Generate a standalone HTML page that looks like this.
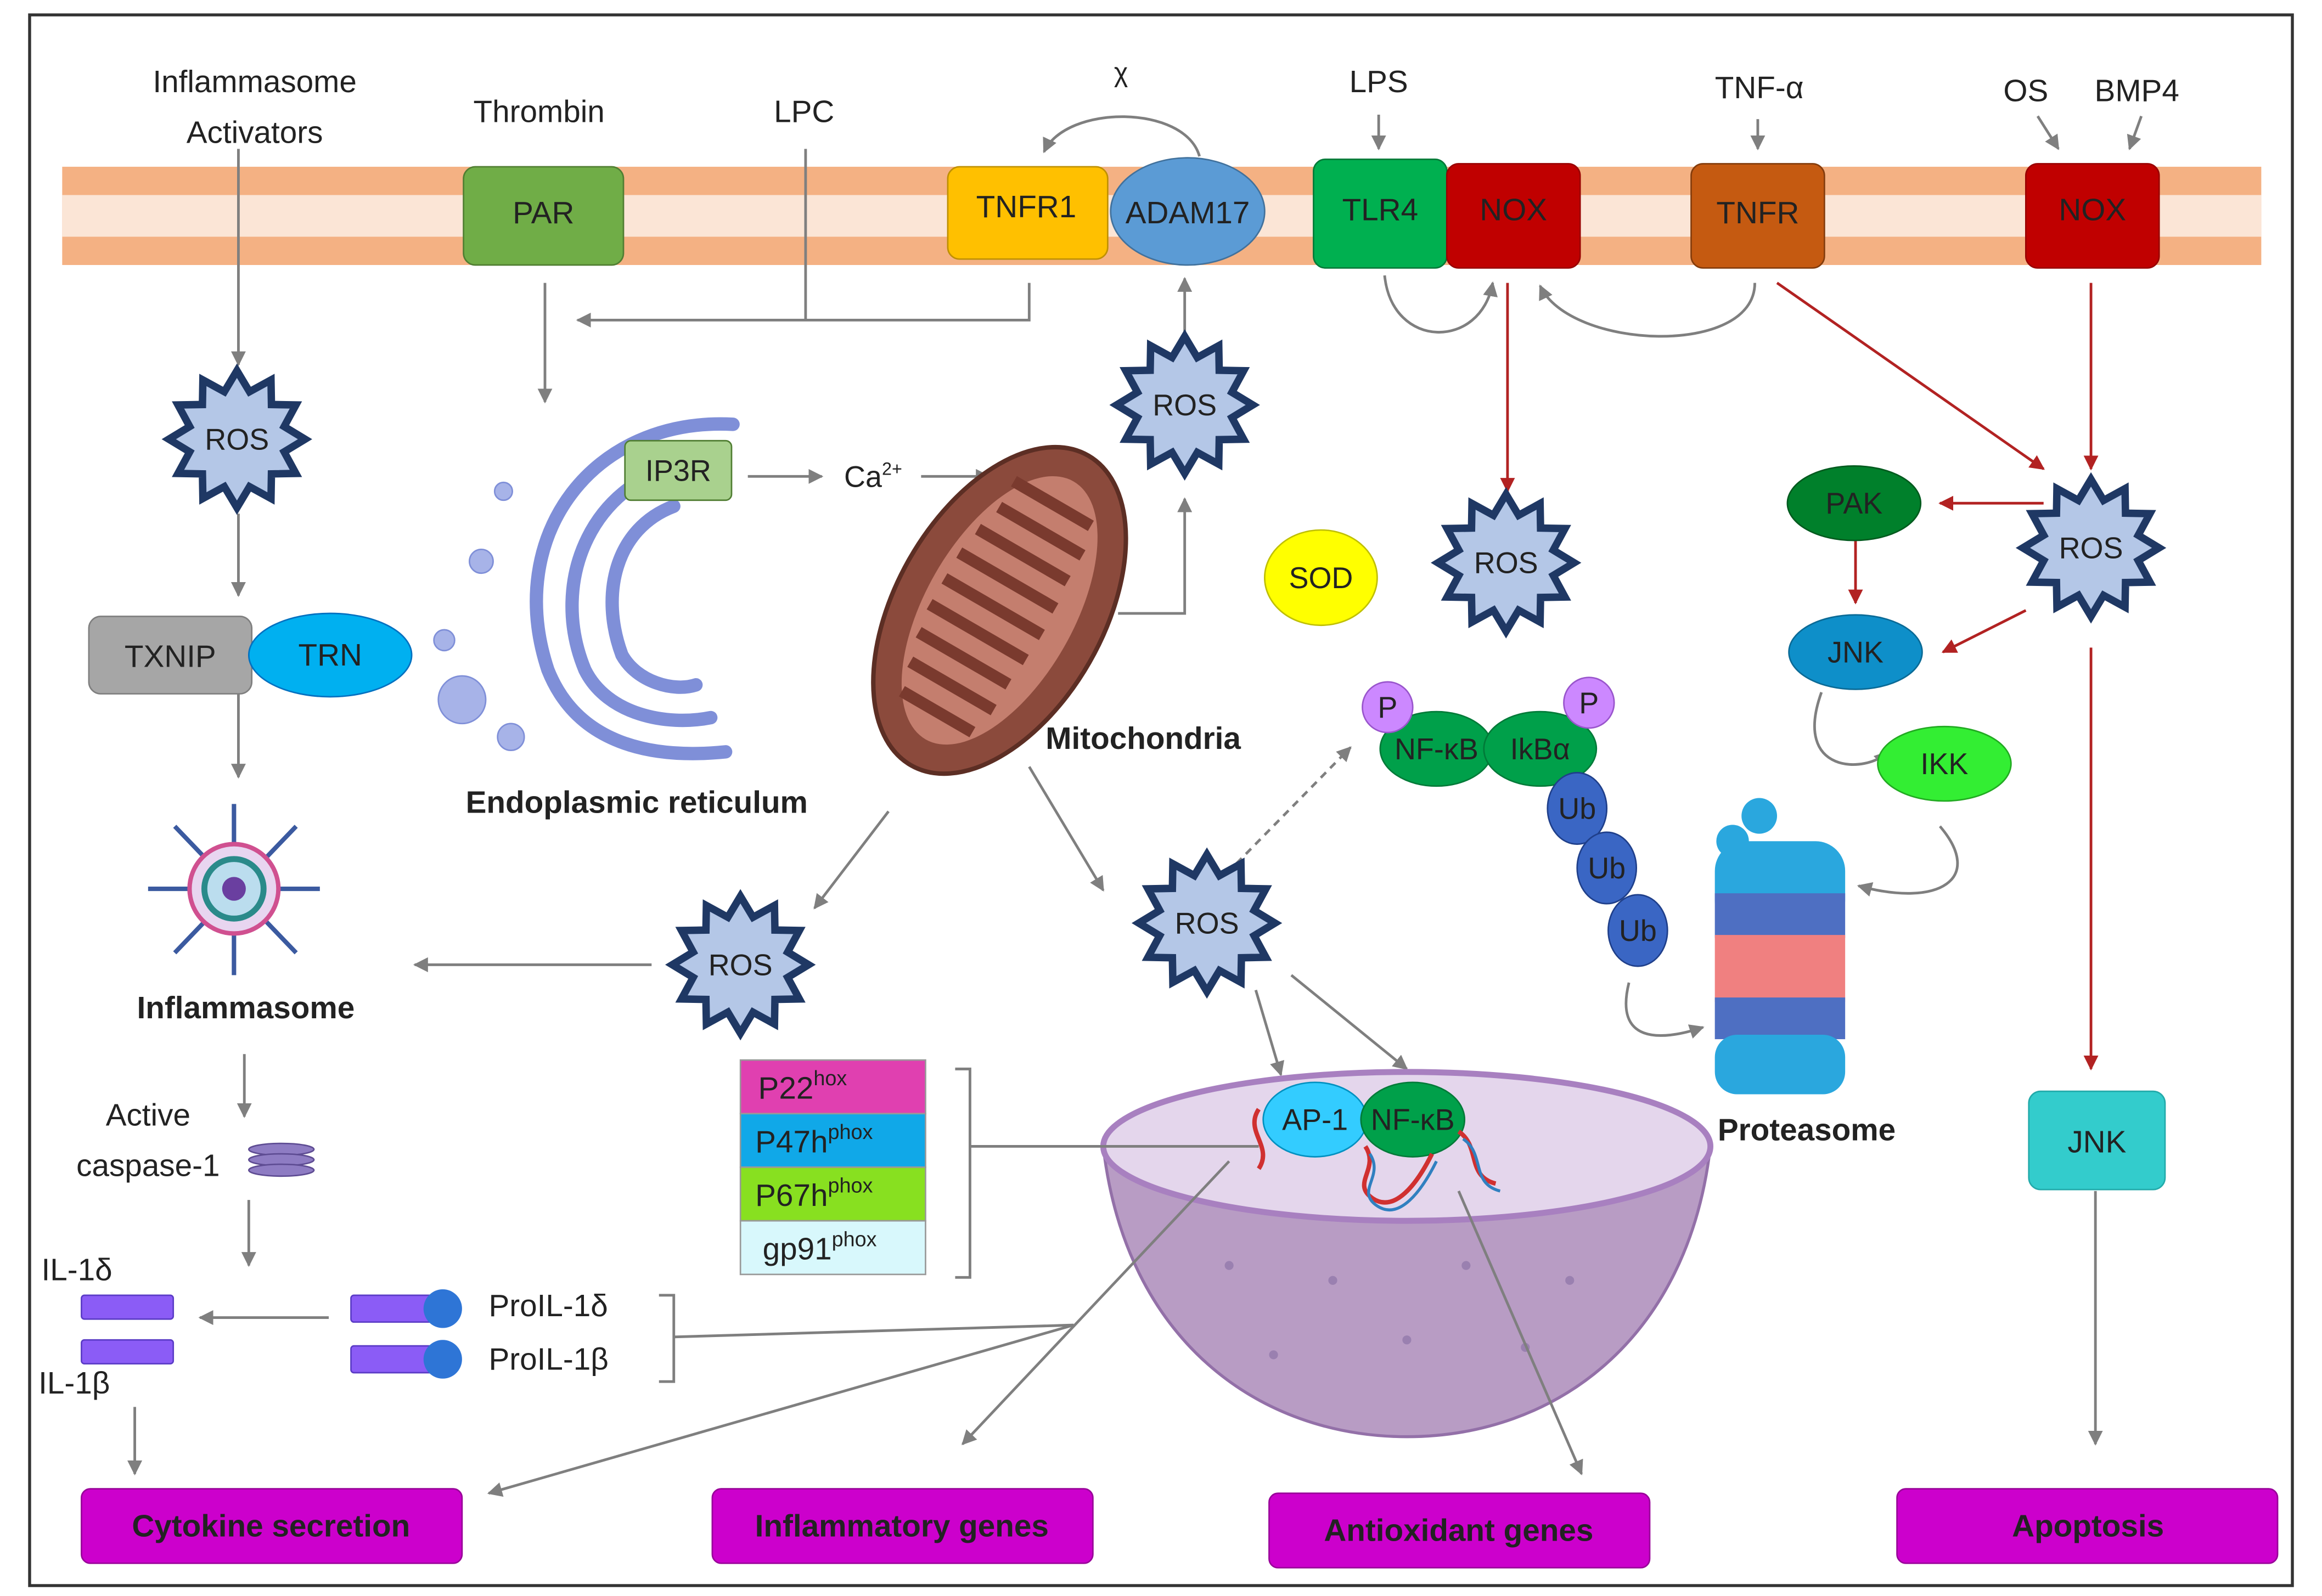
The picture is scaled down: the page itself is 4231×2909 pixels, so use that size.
<!DOCTYPE html>
<html><head><meta charset="utf-8">
<style>html,body{margin:0;padding:0;background:#fff}svg{display:block}
text{font-family:"Liberation Sans",sans-serif;fill:#222}</style></head>
<body>
<svg width="4231" height="2909" viewBox="0 0 1568 1072" preserveAspectRatio="none" xmlns="http://www.w3.org/2000/svg">
<defs>
<marker id="ag" markerWidth="10" markerHeight="10" refX="9" refY="5" orient="auto" markerUnits="userSpaceOnUse"><path d="M0,0 L10,5 L0,10 z" fill="#7f7f7f"/></marker>
<marker id="ar" markerWidth="10" markerHeight="10" refX="9" refY="5" orient="auto" markerUnits="userSpaceOnUse"><path d="M0,0 L10,5 L0,10 z" fill="#b22222"/></marker>
<symbol id="star" viewBox="-50 -50 100 100" overflow="visible">
<polygon points="46,0 31.9,8.5 39.8,23 23.3,23.3 23,39.8 8.5,31.9 0,46 -8.5,31.9 -23,39.8 -23.3,23.3 -39.8,23 -31.9,8.5 -46,0 -31.9,-8.5 -39.8,-23 -23.3,-23.3 -23,-39.8 -8.5,-31.9 0,-46 8.5,-31.9 23,-39.8 23.3,-23.3 39.8,-23 31.9,-8.5" fill="#b4c7e7" stroke="#1f3864" stroke-width="5" stroke-linejoin="miter"/>
</symbol>
</defs>
<rect x="20" y="10" width="1528" height="1055" fill="#fff" stroke="#333" stroke-width="2"/>
<rect x="42" y="112" width="1485" height="66" fill="#f4b183"/>
<rect x="42" y="131" width="1485" height="28" fill="#fbe5d6"/>

<g stroke="#7f7f7f" stroke-width="1.8" fill="none" marker-end="url(#ag)">
<line x1="161" y1="100" x2="161" y2="245"/>
<line x1="161" y1="345" x2="161" y2="400"/>
<line x1="161" y1="466" x2="161" y2="522"/>
<line x1="368" y1="190" x2="368" y2="270"/>
<polyline points="695,190 695,215 390,215"/>
<polyline points="544,100 544,215" marker-end="none"/>
<line x1="505" y1="320" x2="555" y2="320"/>
<line x1="622" y1="320" x2="668" y2="320"/>
<polyline points="755,412 800,412 800,335"/>
<line x1="800" y1="238" x2="800" y2="187"/>
<path d="M810,105 C800,70 720,70 705,102"/>
<line x1="931" y1="77" x2="931" y2="100"/>
<line x1="1187" y1="80" x2="1187" y2="100"/>
<line x1="1376" y1="78" x2="1390" y2="100"/>
<line x1="1446" y1="78" x2="1438" y2="100"/>
<path d="M935,185 C940,235 1000,235 1008,190"/>
<path d="M1185,190 C1185,240 1060,235 1040,192"/>
<line x1="600" y1="545" x2="550" y2="610"/>
<line x1="695" y1="515" x2="745" y2="598"/>
<line x1="440" y1="648" x2="280" y2="648"/>
<line x1="165" y1="708" x2="165" y2="750"/>
<line x1="168" y1="806" x2="168" y2="850"/>
<line x1="222" y1="885" x2="135" y2="885"/>
<line x1="91" y1="945" x2="91" y2="990"/>
<line x1="848" y1="665" x2="865" y2="722"/>
<line x1="872" y1="655" x2="950" y2="718"/>
<path d="M1100,660 C1090,700 1120,700 1150,690"/>
<path d="M1230,465 C1210,520 1260,520 1275,505"/>
<path d="M1310,555 C1340,590 1310,610 1255,595"/>
<polyline points="445,870 455,870 455,928 445,928" marker-end="none"/>
<line x1="455" y1="898" x2="725" y2="890" marker-end="none"/>
<line x1="725" y1="890" x2="330" y2="1003"/>
<polyline points="645,718 655,718 655,858 645,858" marker-end="none"/>
<line x1="1415" y1="800" x2="1415" y2="970"/>
</g>
<line x1="835" y1="580" x2="912" y2="502" stroke="#7f7f7f" stroke-width="1.8" stroke-dasharray="5,4" marker-end="url(#ag)"/>
<g stroke="#b22222" stroke-width="1.8" fill="none" marker-end="url(#ar)">
<line x1="1018" y1="190" x2="1018" y2="330"/>
<line x1="1200" y1="190" x2="1380" y2="315"/>
<line x1="1412" y1="190" x2="1412" y2="315"/>
<line x1="1380" y1="338" x2="1310" y2="338"/>
<line x1="1253" y1="360" x2="1253" y2="405"/>
<line x1="1368" y1="410" x2="1312" y2="438"/>
<line x1="1412" y1="435" x2="1412" y2="718"/>
</g>

<rect x="313" y="112" width="108" height="66" rx="8" fill="#70ad47" stroke="#507e32"/>
<rect x="640" y="112" width="108" height="62" rx="8" fill="#ffc000" stroke="#bf9000"/>
<ellipse cx="802" cy="142" rx="52" ry="36" fill="#5b9bd5" stroke="#41719c"/>
<rect x="887" y="107" width="90" height="73" rx="8" fill="#00b050" stroke="#007a38"/>
<rect x="977" y="110" width="90" height="70" rx="8" fill="#c00000" stroke="#900"/>
<rect x="1142" y="110" width="90" height="70" rx="8" fill="#c55a11" stroke="#843c0c"/>
<rect x="1368" y="110" width="90" height="70" rx="8" fill="#c00000" stroke="#900"/>
<g font-size="21" text-anchor="middle">
<text x="367" y="150">PAR</text><text x="693" y="146">TNFR1</text><text x="802" y="150">ADAM17</text>
<text x="932" y="148">TLR4</text><text x="1022" y="148">NOX</text><text x="1187" y="150">TNFR</text><text x="1413" y="148">NOX</text>
<text x="172" y="62">Inflammasome</text><text x="172" y="96">Activators</text>
<text x="364" y="82">Thrombin</text><text x="543" y="82">LPC</text><text x="757" y="55" font-size="18">χ</text>
<text x="931" y="62">LPS</text><text x="1188" y="66">TNF-α</text><text x="1368" y="68">OS</text><text x="1443" y="68">BMP4</text>
</g>

<use href="#star" x="110" y="245" width="100" height="100"/>
<use href="#star" x="750" y="222" width="100" height="100"/>
<use href="#star" x="967" y="328" width="100" height="100"/>
<use href="#star" x="1362" y="318" width="100" height="100"/>
<use href="#star" x="450" y="598" width="100" height="100"/>
<use href="#star" x="765" y="570" width="100" height="100"/>
<g font-size="20" text-anchor="middle">
<text x="160" y="302">ROS</text><text x="800" y="279">ROS</text><text x="1017" y="385">ROS</text>
<text x="1412" y="375">ROS</text><text x="500" y="655">ROS</text><text x="815" y="627">ROS</text>
</g>

<rect x="60" y="414" width="110" height="52" rx="8" fill="#a6a6a6" stroke="#7f7f7f"/>
<ellipse cx="223" cy="440" rx="55" ry="28" fill="#00b0f0" stroke="#0070c0"/>
<text x="115" y="448" font-size="21" text-anchor="middle">TXNIP</text>
<text x="223" y="447" font-size="21" text-anchor="middle">TRN</text>

<g stroke="#3b5aa0" stroke-width="3">
<line x1="158" y1="540" x2="158" y2="655"/><line x1="100" y1="597" x2="216" y2="597"/>
<line x1="118" y1="555" x2="200" y2="640"/><line x1="200" y1="555" x2="118" y2="640"/>
</g>
<circle cx="158" cy="597" r="30" fill="#e8d5f0" stroke="#d05090" stroke-width="3"/>
<circle cx="158" cy="597" r="20" fill="#bde" stroke="#2a8a8a" stroke-width="4"/>
<circle cx="158" cy="597" r="8" fill="#6a3fa0"/>
<text x="166" y="684" font-size="21" font-weight="bold" text-anchor="middle">Inflammasome</text>
<text x="100" y="756" font-size="21" text-anchor="middle">Active</text>
<text x="100" y="790" font-size="21" text-anchor="middle">caspase-1</text>
<g fill="#8e7cc3" stroke="#5e4c93"><ellipse cx="190" cy="772" rx="22" ry="4"/><ellipse cx="190" cy="779" rx="22" ry="4"/><ellipse cx="190" cy="786" rx="22" ry="4"/></g>

<text x="28" y="860" font-size="21">IL-1δ</text>
<text x="26" y="936" font-size="21">IL-1β</text>
<rect x="55" y="870" width="62" height="16" rx="2" fill="#8b5cf6" stroke="#5b3cc6"/>
<rect x="55" y="900" width="62" height="16" rx="2" fill="#8b5cf6" stroke="#5b3cc6"/>
<rect x="237" y="870" width="60" height="18" rx="2" fill="#8b5cf6" stroke="#5b3cc6"/><circle cx="299" cy="879" r="13" fill="#2e75d6"/>
<rect x="237" y="904" width="60" height="18" rx="2" fill="#8b5cf6" stroke="#5b3cc6"/><circle cx="299" cy="913" r="13" fill="#2e75d6"/>
<text x="330" y="884" font-size="21">ProIL-1δ</text><text x="330" y="920" font-size="21">ProIL-1β</text>

<g fill="none" stroke="#7f8fd8" stroke-width="9" stroke-linecap="round">
<path d="M495,285 C400,280 340,360 370,450 C390,500 440,510 490,505"/>
<path d="M470,310 C400,320 370,390 395,450 C410,480 450,488 480,482"/>
<path d="M455,340 C415,355 405,400 420,440 C430,458 455,465 470,460"/>
</g>
<g fill="#a7b3e8" stroke="#7f8fd8"><circle cx="312" cy="470" r="16"/><circle cx="345" cy="495" r="9"/><circle cx="325" cy="377" r="8"/><circle cx="340" cy="330" r="6"/><circle cx="300" cy="430" r="7"/></g>
<rect x="422" y="296" width="72" height="40" rx="4" fill="#a9d18e" stroke="#507e32"/>
<text x="458" y="323" font-size="20" text-anchor="middle">IP3R</text>
<text x="430" y="546" font-size="21" font-weight="bold" text-anchor="middle">Endoplasmic reticulum</text>
<text x="570" y="327" font-size="20">Ca<tspan font-size="12" dy="-8">2+</tspan></text>

<g transform="rotate(30 675 410)">
<ellipse cx="675" cy="410" rx="70" ry="120" fill="#8b4a3c" stroke="#5c2e24" stroke-width="3"/>
<ellipse cx="675" cy="410" rx="50" ry="100" fill="#c47e6e"/>
<path d="M640,330 h60 M640,350 h65 M635,370 h70 M632,390 h75 M632,410 h76 M632,430 h75 M635,450 h70 M640,470 h65 M645,490 h55" stroke="#7a3a2e" stroke-width="8"/>
</g>
<text x="772" y="503" font-size="21" font-weight="bold" text-anchor="middle">Mitochondria</text>

<ellipse cx="892" cy="388" rx="38" ry="32" fill="#ffff00" stroke="#bfbf00"/>
<text x="892" y="395" font-size="20" text-anchor="middle">SOD</text>

<ellipse cx="970" cy="503" rx="38" ry="25" fill="#00a04a" stroke="#007a38"/>
<ellipse cx="1040" cy="503" rx="38" ry="25" fill="#00a04a" stroke="#007a38"/>
<circle cx="937" cy="475" r="17" fill="#cc88ff" stroke="#9955cc"/><circle cx="1073" cy="472" r="17" fill="#cc88ff" stroke="#9955cc"/>
<g font-size="20" text-anchor="middle"><text x="937" y="482">P</text><text x="1073" y="479">P</text>
<text x="970" y="510">NF-κB</text><text x="1040" y="510">IkBα</text></g>
<g fill="#3a66c4" stroke="#1f3f8a"><ellipse cx="1065" cy="543" rx="20" ry="24"/><ellipse cx="1085" cy="583" rx="20" ry="24"/><ellipse cx="1106" cy="625" rx="20" ry="24"/></g>
<g font-size="20" text-anchor="middle"><text x="1065" y="550">Ub</text><text x="1085" y="590">Ub</text><text x="1106" y="632">Ub</text></g>

<rect x="1158" y="565" width="88" height="60" rx="20" fill="#2aa7de"/>
<rect x="1158" y="600" width="88" height="30" fill="#4e6fc2"/>
<rect x="1158" y="628" width="88" height="45" fill="#f08080"/>
<rect x="1158" y="670" width="88" height="28" fill="#4e6fc2"/>
<rect x="1158" y="695" width="88" height="40" rx="15" fill="#2aa7de"/>
<circle cx="1188" cy="548" r="12" fill="#2aa7de"/><circle cx="1170" cy="565" r="11" fill="#2aa7de"/>
<text x="1220" y="766" font-size="21" font-weight="bold" text-anchor="middle">Proteasome</text>

<ellipse cx="1252" cy="338" rx="45" ry="25" fill="#00802b" stroke="#005a1e"/>
<ellipse cx="1253" cy="438" rx="45" ry="25" fill="#0e8fc9" stroke="#0a6a96"/>
<ellipse cx="1313" cy="513" rx="45" ry="25" fill="#33ee33" stroke="#22aa22"/>
<g font-size="20" text-anchor="middle"><text x="1252" y="345">PAK</text><text x="1253" y="445">JNK</text><text x="1313" y="520">IKK</text></g>
<rect x="1370" y="733" width="92" height="66" rx="8" fill="#33cccc" stroke="#22aaaa"/>
<text x="1416" y="774" font-size="21" text-anchor="middle">JNK</text>

<rect x="500" y="712" width="125" height="36" fill="#e040b0" stroke="#999"/>
<rect x="500" y="748" width="125" height="36" fill="#10a8e8" stroke="#999"/>
<rect x="500" y="784" width="125" height="36" fill="#88e020" stroke="#999"/>
<rect x="500" y="820" width="125" height="36" fill="#d8f8fc" stroke="#999"/>
<g font-size="21"><text x="512" y="738">P22<tspan font-size="14" dy="-9">hox</tspan></text>
<text x="510" y="774">P47h<tspan font-size="14" dy="-9">phox</tspan></text>
<text x="510" y="810">P67h<tspan font-size="14" dy="-9">phox</tspan></text>
<text x="515" y="846">gp91<tspan font-size="14" dy="-9">phox</tspan></text></g>

<path d="M745,770 C760,900 850,965 950,965 C1050,965 1140,900 1155,770 Z" fill="#b89cc4" stroke="#9370a8" stroke-width="2"/>
<ellipse cx="950" cy="770" rx="205" ry="50" fill="#e4d6ec" stroke="#a880c0" stroke-width="4"/>
<g fill="#9a80b0"><circle cx="830" cy="850" r="3"/><circle cx="900" cy="860" r="3"/><circle cx="990" cy="850" r="3"/><circle cx="1060" cy="860" r="3"/><circle cx="860" cy="910" r="3"/><circle cx="950" cy="900" r="3"/><circle cx="1030" cy="905" r="3"/></g>
<g stroke="#7f7f7f" stroke-width="1.8" fill="none" marker-end="url(#ag)">
<line x1="655" y1="770" x2="850" y2="770" marker-end="none"/>
<line x1="830" y1="780" x2="650" y2="970"/>
<line x1="985" y1="800" x2="1068" y2="990"/>
</g>
<ellipse cx="888" cy="752" rx="35" ry="25" fill="#33ccff" stroke="#0090c0"/>
<ellipse cx="954" cy="752" rx="35" ry="25" fill="#00a04a" stroke="#007a38"/>
<g font-size="20" text-anchor="middle"><text x="888" y="759">AP-1</text><text x="954" y="759">NF-κB</text></g>
<path d="M922,770 c10,15 -10,25 5,35 c15,10 30,-10 40,-30 M985,760 c15,10 5,30 25,35 M850,745 c-10,15 10,25 0,40" stroke="#d03030" stroke-width="3" fill="none"/>
<path d="M925,775 c10,15 -10,25 5,35 c15,10 30,-10 40,-30 M988,765 c15,10 5,30 25,35" stroke="#3080c0" stroke-width="2" fill="none"/>

<g fill="#cc00cc" stroke="#990099">
<rect x="55" y="1000" width="257" height="50" rx="6"/>
<rect x="481" y="1000" width="257" height="50" rx="6"/>
<rect x="857" y="1003" width="257" height="50" rx="6"/>
<rect x="1281" y="1000" width="257" height="50" rx="6"/>
</g>
<g font-size="21" font-weight="bold" text-anchor="middle">
<text x="183" y="1032">Cytokine secretion</text><text x="609" y="1032">Inflammatory genes</text>
<text x="985" y="1035">Antioxidant genes</text><text x="1410" y="1032">Apoptosis</text>
</g>
</svg>
</body></html>
